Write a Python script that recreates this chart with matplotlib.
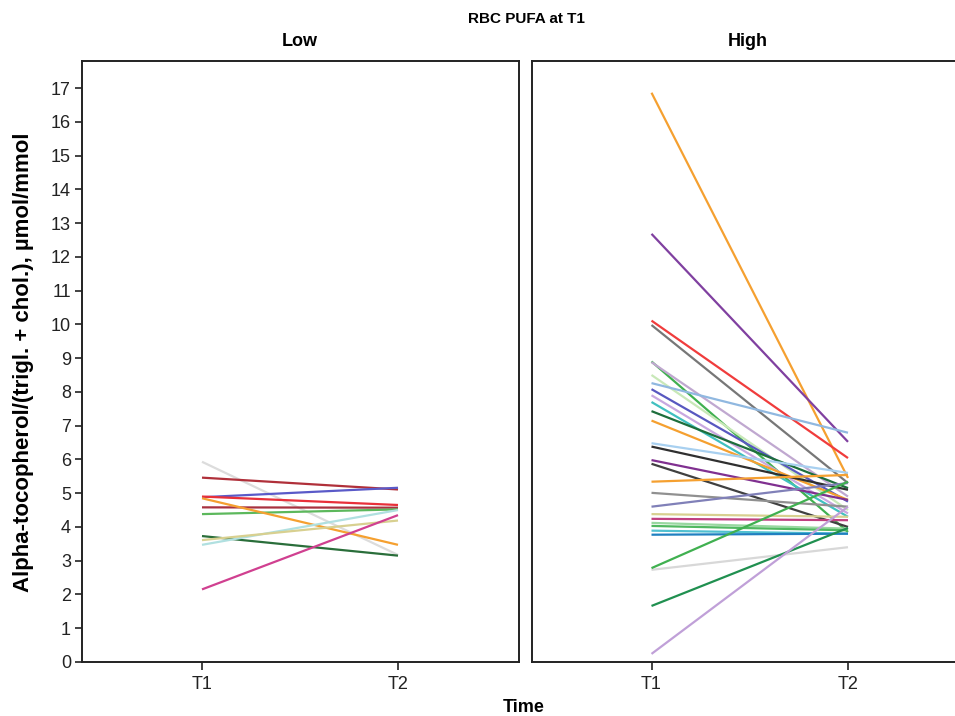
import matplotlib
matplotlib.use("Agg")
import matplotlib.pyplot as plt

plt.rcParams['font.family'] = ['Liberation Sans', 'DejaVu Sans']

# ---- data ----
time_labels = ["T1", "T2"]
y_ticks = list(range(0, 18))

low_t1 = [5.93, 5.46, 4.88, 4.90, 4.58, 4.38, 4.85, 3.73, 3.47, 3.61, 2.15]
low_t2 = [3.17, 5.11, 5.16, 4.65, 4.57, 4.52, 3.47, 3.15, 4.50, 4.19, 4.35]
low_colors = ['#dcdcdc', '#b0303a', '#5a5ac8', '#e8303a', '#a83240', '#5cb85c',
              '#f5a030', '#2a6e3a', '#b0e0e0', '#d8d090', '#d04090']

high_t1 = [16.86, 12.68, 10.11, 9.98, 8.90, 8.88, 8.50, 8.26, 8.08, 7.90,
           7.70, 7.43, 7.15, 6.48, 6.38, 5.98, 5.87, 5.34, 5.01, 4.60,
           4.38, 4.24, 4.12, 4.03, 3.89, 3.77, 2.73, 2.78, 1.66, 0.24]
high_t2 = [5.45, 6.52, 6.04, 5.30, 3.85, 4.90, 4.50, 6.79, 4.75, 4.40,
           4.30, 5.15, 4.80, 5.60, 5.10, 4.80, 4.00, 5.54, 4.60, 5.30,
           4.30, 4.20, 3.95, 3.90, 3.80, 3.80, 3.40, 5.34, 3.97, 4.60]
high_colors = ['#f5a030', '#8040a0', '#f03c3c', '#777777', '#40b050', '#c0a8d0',
               '#c8e8b8', '#90b8e0', '#5858c0', '#c8a8e0', '#40c0c0', '#1e6e3c',
               '#f5a030', '#a8d0f0', '#303030', '#803090', '#404040', '#f5a030',
               '#909090', '#8080b8', '#d8d090', '#c04080', '#98d8a0', '#50b860',
               '#50c0d0', '#2080c0', '#d8d8d8', '#40b050', '#209050', '#c0a0d8']

W, H = 955, 716
fig = plt.figure(figsize=(W / 100, H / 100), dpi=100)

def fx(px):
    return px / W

def fy(py):
    return 1 - py / H

top, bottom = 61, 662
axL = fig.add_axes([fx(82), fy(bottom), fx(519 - 82), (bottom - top) / H])
axR = fig.add_axes([fx(532), fy(bottom), fx(968 - 532), (bottom - top) / H])

xpos = [1, 2]
for t1, t2, c in zip(low_t1, low_t2, low_colors):
    axL.plot(xpos, [t1, t2], color=c, lw=1.6, solid_capstyle='butt')
for t1, t2, c in zip(high_t1, high_t2, high_colors):
    axR.plot(xpos, [t1, t2], color=c, lw=1.6, solid_capstyle='butt')

ymin = 0
ymax = 17 + (88 - top) / ((bottom - 88) / 17)
axL.set_xlim(1 - 120 / 196, 2 + 121 / 196)
axR.set_xlim(1 - 119.5 / 196.5, 2 + (968 - 848) / 196.5)

for ax in (axL, axR):
    ax.set_ylim(ymin, ymax)
    ax.set_xticks(xpos)
    ax.set_xticklabels(time_labels, fontsize=13, color='#222222')
    for s in ax.spines.values():
        s.set_linewidth(1.4)
        s.set_color('#222222')
    ax.tick_params(axis='x', direction='out', length=6, width=1.2, color='#222222', pad=4)

axL.set_yticks(y_ticks)
axL.set_yticklabels([str(v) for v in y_ticks], fontsize=13, color='#222222')
axL.tick_params(axis='y', direction='out', length=5, width=1.2, color='#222222', pad=3)
axR.set_yticks([])

fig.text(fx(300), fy(42), "Low", ha='center', va='center', fontsize=13, fontweight='bold')
fig.text(fx(748), fy(42), "High", ha='center', va='center', fontsize=13, fontweight='bold')
fig.text(fx(526), fy(19), "RBC PUFA at T1", ha='center', va='center', fontsize=11, fontweight='bold')
fig.text(fx(524), fy(707), "Time", ha='center', va='center', fontsize=13, fontweight='bold')
fig.text(fx(24), fy(362), "Alpha-tocopherol/(trigl. + chol.), µmol/mmol", ha='center', va='center',
         rotation=90, fontsize=16, fontweight='bold')

fig.savefig("out.png", dpi=100)
